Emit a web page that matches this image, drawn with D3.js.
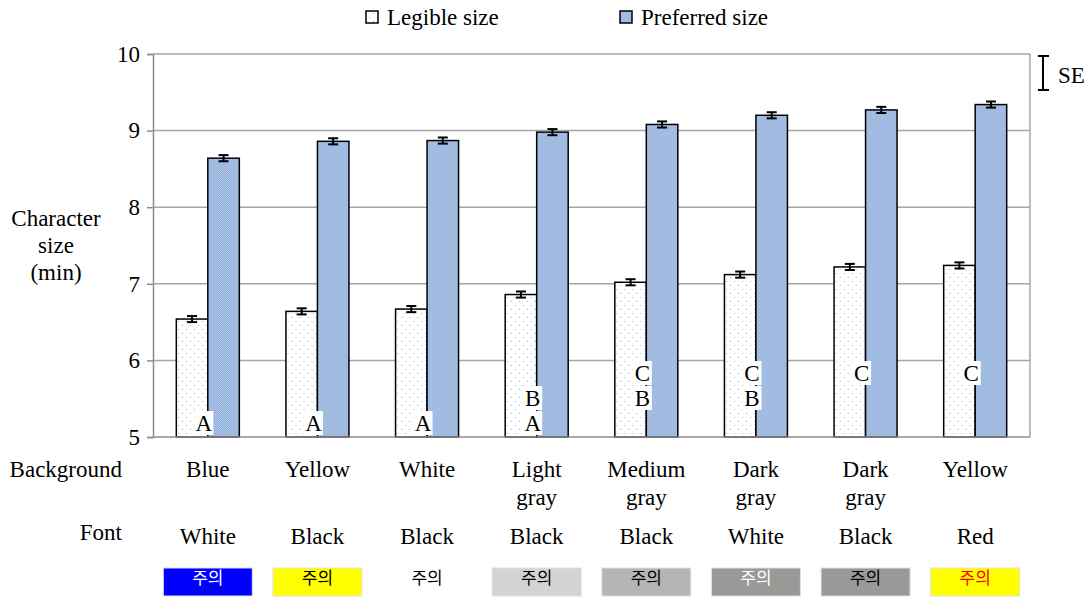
<!DOCTYPE html>
<html>
<head>
<meta charset="utf-8">
<script src="https://cdn.jsdelivr.net/npm/d3@7"></script>
<style>
  html, body { margin: 0; padding: 0; background: #fff; }
  svg { display: block; }
</style>
</head>
<body>
<svg id="chart" width="1092" height="598"></svg>
<script>
// Condition labels
const backgrounds = ["Blue", "Yellow", "White", "Light gray", "Medium gray", "Dark gray", "Dark gray", "Yellow"];
const fonts = ["White", "Black", "Black", "Black", "Black", "White", "Black", "Red"];

// Mean character size (min) and standard errors
const legible = [6.54, 6.64, 6.67, 6.86, 7.02, 7.12, 7.22, 7.24];
const preferred = [8.64, 8.86, 8.87, 8.98, 9.08, 9.20, 9.27, 9.34];
const legibleSE = [0.04, 0.04, 0.04, 0.04, 0.04, 0.04, 0.04, 0.04];
const preferredSE = [0.04, 0.04, 0.04, 0.04, 0.04, 0.04, 0.04, 0.04];

// Post-hoc grouping letters for legible size
const groupLetters = [["A"], ["A"], ["A"], ["A", "B"], ["B", "C"], ["B", "C"], ["C"], ["C"]];
const letterOrder = ["A", "B", "C"];

// Sample swatches
const swatchFill = ["#0000ff", "#ffff00", "none", "#d3d3d3", "#b5b5b5", "#989a98", "#989a98", "#ffff00"];
const swatchInk = ["#ffffff", "#000000", "#000000", "#000000", "#000000", "#ffffff", "#000000", "#ff0000"];
const swatchWord = "주의";

const yTicks = [5, 6, 7, 8, 9, 10];
const seriesNames = ["Legible size", "Preferred size"];

const SERIF = "Liberation Serif";
const FS = 23;
const svg = d3.select("#chart");
svg.append("rect").attr("width", 1092).attr("height", 598).attr("fill", "#fff");
const plot = { left: 153, right: 1030, top: 54, bottom: 437 };

// Patterns
const defs = svg.append("defs");
const dots = defs.append("pattern").attr("id", "dots")
  .attr("patternUnits", "userSpaceOnUse").attr("width", 8).attr("height", 8);
dots.append("rect").attr("width", 8).attr("height", 8).attr("fill", "#ffffff");
dots.append("rect").attr("x", 1).attr("y", 1).attr("width", 1).attr("height", 1).attr("fill", "#8fb0dc");
dots.append("rect").attr("x", 5).attr("y", 5).attr("width", 1).attr("height", 1).attr("fill", "#8fb0dc");

const mesh = defs.append("pattern").attr("id", "mesh")
  .attr("patternUnits", "userSpaceOnUse").attr("width", 2).attr("height", 2);
mesh.append("rect").attr("width", 2).attr("height", 2).attr("fill", "#acc4e6");
mesh.append("rect").attr("width", 1).attr("height", 1).attr("fill", "#96b2dc");
mesh.append("rect").attr("x", 1).attr("y", 1).attr("width", 1).attr("height", 1).attr("fill", "#96b2dc");

const idx = d3.range(backgrounds.length);
const x = d3.scaleBand().domain(idx).range([plot.left, plot.right]).paddingInner(0).paddingOuter(0);
const xs = d3.scaleBand().domain([0, 1]).range([0, x.bandwidth()]).paddingInner(0).paddingOuter(0.74);
const y = d3.scaleLinear().domain([5, 10]).range([plot.bottom, plot.top]);

// Gridlines
svg.append("g").selectAll("line").data(yTicks.filter(t => t > 5)).join("line")
  .attr("x1", plot.left).attr("x2", plot.right)
  .attr("y1", d => y(d)).attr("y2", d => y(d))
  .attr("stroke", "#a6a6a6").attr("stroke-width", 1.5);

// Right frame
svg.append("line").attr("x1", plot.right).attr("x2", plot.right)
  .attr("y1", plot.top).attr("y2", plot.bottom)
  .attr("stroke", "#a6a6a6").attr("stroke-width", 1.5);

// Y axis
const yAxis = svg.append("g").attr("transform", `translate(${plot.left},0)`)
  .call(d3.axisLeft(y).tickValues(yTicks).tickSize(6).tickPadding(7).tickFormat(d3.format("d")));
yAxis.attr("font-family", SERIF).attr("font-size", FS);
yAxis.select(".domain").attr("stroke", "#8c8c8c").attr("stroke-width", 1.5);
yAxis.selectAll(".tick line").attr("stroke", "#8c8c8c").attr("stroke-width", 1.5);
yAxis.selectAll(".tick text").attr("font-family", SERIF).attr("font-size", FS).attr("fill", "#000");

// Bars
const groups = svg.append("g").selectAll("g").data(idx).join("g")
  .attr("transform", i => `translate(${x(i)},0)`);

groups.append("rect")
  .attr("x", xs(0)).attr("width", xs.bandwidth())
  .attr("y", i => y(legible[i])).attr("height", i => y(5) - y(legible[i]))
  .attr("fill", "url(#dots)").attr("stroke", "#000").attr("stroke-width", 1.5);

groups.append("rect")
  .attr("x", xs(1)).attr("width", xs.bandwidth())
  .attr("y", i => y(preferred[i])).attr("height", i => y(5) - y(preferred[i]))
  .attr("fill", "url(#mesh)").attr("stroke", "#000").attr("stroke-width", 1.5);

// Bottom axis line
svg.append("line").attr("x1", plot.left).attr("x2", plot.right)
  .attr("y1", plot.bottom).attr("y2", plot.bottom)
  .attr("stroke", "#8c8c8c").attr("stroke-width", 1.5);

// Error bars
function errorBar(sel, cx, mean, se) {
  const g = sel.append("g").attr("stroke", "#000").attr("stroke-width", 2);
  g.append("line").attr("x1", cx).attr("x2", cx).attr("y1", y(mean - se)).attr("y2", y(mean + se));
  g.append("line").attr("x1", cx - 5).attr("x2", cx + 5).attr("y1", y(mean - se)).attr("y2", y(mean - se));
  g.append("line").attr("x1", cx - 5).attr("x2", cx + 5).attr("y1", y(mean + se)).attr("y2", y(mean + se));
}
groups.each(function (i) {
  const g = d3.select(this);
  errorBar(g, xs(0) + xs.bandwidth() / 2, legible[i], legibleSE[i]);
  errorBar(g, xs(1) + xs.bandwidth() / 2, preferred[i], preferredSE[i]);
});

// Grouping letters
groups.each(function (i) {
  const g = d3.select(this);
  const cx = x.bandwidth() / 2 - 4;
  groupLetters[i].forEach(letter => {
    const row = letterOrder.indexOf(letter);
    const cy = plot.bottom - 14 - row * 25;
    g.append("rect").attr("x", cx - 9.5).attr("y", cy - 12).attr("width", 19).attr("height", 24).attr("fill", "#fff");
    g.append("text").attr("font-family", SERIF).attr("x", cx).attr("y", cy + 8).attr("text-anchor", "middle")
      .attr("font-size", FS).attr("fill", "#000").text(letter);
  });
});

// Background and font labels, with sample swatches
groups.each(function (i) {
  const g = d3.select(this);
  const cx = x.bandwidth() / 2;
  const words = backgrounds[i].split(" ");
  const t = g.append("text").attr("font-family", SERIF).attr("text-anchor", "middle").attr("font-size", FS).attr("fill", "#000");
  words.forEach((w, k) => t.append("tspan").attr("x", cx).attr("y", 477 + k * 28).text(w));
  g.append("text").attr("font-family", SERIF).attr("x", cx).attr("y", 544).attr("text-anchor", "middle")
    .attr("font-size", FS).attr("fill", "#000").text(fonts[i]);

  if (swatchFill[i] !== "none") {
    g.append("rect").attr("x", cx - 44.5).attr("y", 568).attr("width", 89).attr("height", 28)
      .attr("fill", swatchFill[i]).attr("stroke", "#e0e0e0").attr("stroke-width", 1);
  }
  g.append("text").attr("x", cx).attr("y", 584).attr("text-anchor", "middle")
    .attr("font-family", "Noto Sans CJK KR").attr("font-size", 17)
    .attr("fill", swatchInk[i]).text(swatchWord);
});

// Row titles
svg.append("text").attr("font-family", SERIF).attr("x", 122).attr("y", 477).attr("text-anchor", "end").attr("font-size", FS).text("Background");
svg.append("text").attr("font-family", SERIF).attr("x", 122).attr("y", 540).attr("text-anchor", "end").attr("font-size", FS).text("Font");

// Y axis title
const yt = svg.append("text").attr("font-family", SERIF).attr("text-anchor", "middle").attr("font-size", FS);
["Character", "size", "(min)"].forEach((w, k) => yt.append("tspan").attr("x", 56).attr("y", 226 + k * 27).text(w));

// Legend
const legendX = [366, 620];
const legendFill = ["url(#dots)", "url(#mesh)"];
seriesNames.forEach((name, k) => {
  svg.append("rect").attr("x", legendX[k]).attr("y", 11).attr("width", 12).attr("height", 12)
    .attr("fill", legendFill[k]).attr("stroke", "#000").attr("stroke-width", 1.5);
  svg.append("text").attr("font-family", SERIF).attr("x", legendX[k] + 21).attr("y", 25).attr("font-size", FS).text(name);
});

// SE key
const se = svg.append("g").attr("stroke", "#000").attr("stroke-width", 2);
se.append("line").attr("x1", 1043).attr("x2", 1043).attr("y1", 56).attr("y2", 90);
se.append("line").attr("x1", 1038).attr("x2", 1049).attr("y1", 56).attr("y2", 56);
se.append("line").attr("x1", 1038).attr("x2", 1049).attr("y1", 90).attr("y2", 90);
svg.append("text").attr("font-family", SERIF).attr("x", 1058).attr("y", 83).attr("font-size", FS).text("SE");
</script>
</body>
</html>
